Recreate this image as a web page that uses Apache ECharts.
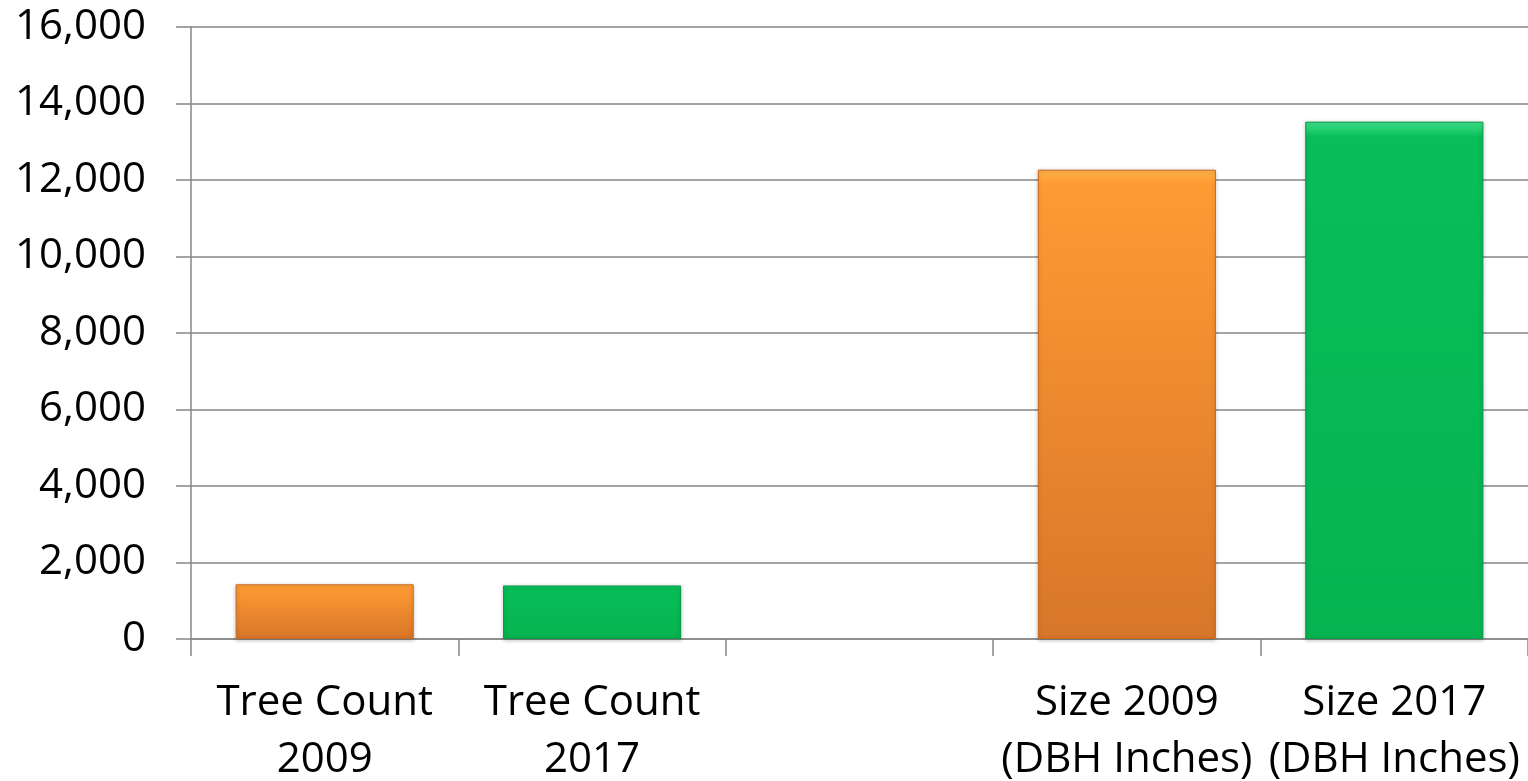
<!DOCTYPE html>
<html>
<head>
<meta charset="utf-8">
<script src="https://cdn.jsdelivr.net/npm/echarts@6/dist/echarts.min.js"></script>
<style>
html,body{margin:0;padding:0;background:#fff;}
#chart{width:1528px;height:781px;}
</style>
</head>
<body>
<div id="chart"></div>
<script>
const categories = ['Tree Count\n2009', 'Tree Count\n2017', '', 'Size 2009\n(DBH Inches)', 'Size 2017\n(DBH Inches)'];
const values = [1430, 1400, null, 12270, 13525];
const yTicks = { min: 0, max: 16000, interval: 2000 };

const orange = new echarts.graphic.LinearGradient(0, 0, 0, 1, [
  { offset: 0, color: '#FFB347' },
  { offset: 0.03, color: '#FF9B33' },
  { offset: 1, color: '#D8762A' }
]);
const green = new echarts.graphic.LinearGradient(0, 0, 0, 1, [
  { offset: 0, color: '#3FE08A' },
  { offset: 0.03, color: '#07BE58' },
  { offset: 1, color: '#05B450' }
]);
const colorFor = [orange, green, null, orange, green];
const borderFor = ['#C86A20', '#049A45', null, '#C86A20', '#049A45'];

const chart = echarts.init(document.getElementById('chart'));
chart.setOption({
  animation: false,
  grid: { left: 191, right: 0, top: 27, bottom: 142, containLabel: false, outerBoundsMode: 'none' },
  xAxis: {
    type: 'category',
    data: categories,
    axisLine: { lineStyle: { color: '#868686', width: 1.5 } },
    axisTick: { show: true, length: 17, lineStyle: { color: '#868686', width: 1.5 } },
    axisLabel: {
      color: '#000', fontFamily: 'Open Sans', fontSize: 42, lineHeight: 57,
      margin: 36, interval: 0
    }
  },
  yAxis: {
    type: 'value',
    min: yTicks.min, max: yTicks.max, interval: yTicks.interval,
    axisLine: { show: true, lineStyle: { color: '#868686', width: 1.5 } },
    axisTick: { show: true, length: 15, lineStyle: { color: '#868686', width: 1.5 } },
    splitLine: { lineStyle: { color: '#868686', width: 1.5 } },
    axisLabel: {
      color: '#000', fontFamily: 'Open Sans', fontSize: 42, margin: 45,
      padding: [6, 0, 0, 0],
      formatter: v => v.toLocaleString('en-US')
    }
  },
  series: [{
    type: 'bar',
    barWidth: '66.6%',
    data: values.map((v, i) => ({
      value: v,
      itemStyle: {
        color: colorFor[i] || '#fff',
        borderColor: borderFor[i] || '#fff',
        borderWidth: 1,
        shadowColor: 'rgba(0,0,0,0.25)',
        shadowBlur: 4,
        shadowOffsetY: 1
      }
    }))
  }]
});
</script>
</body>
</html>
